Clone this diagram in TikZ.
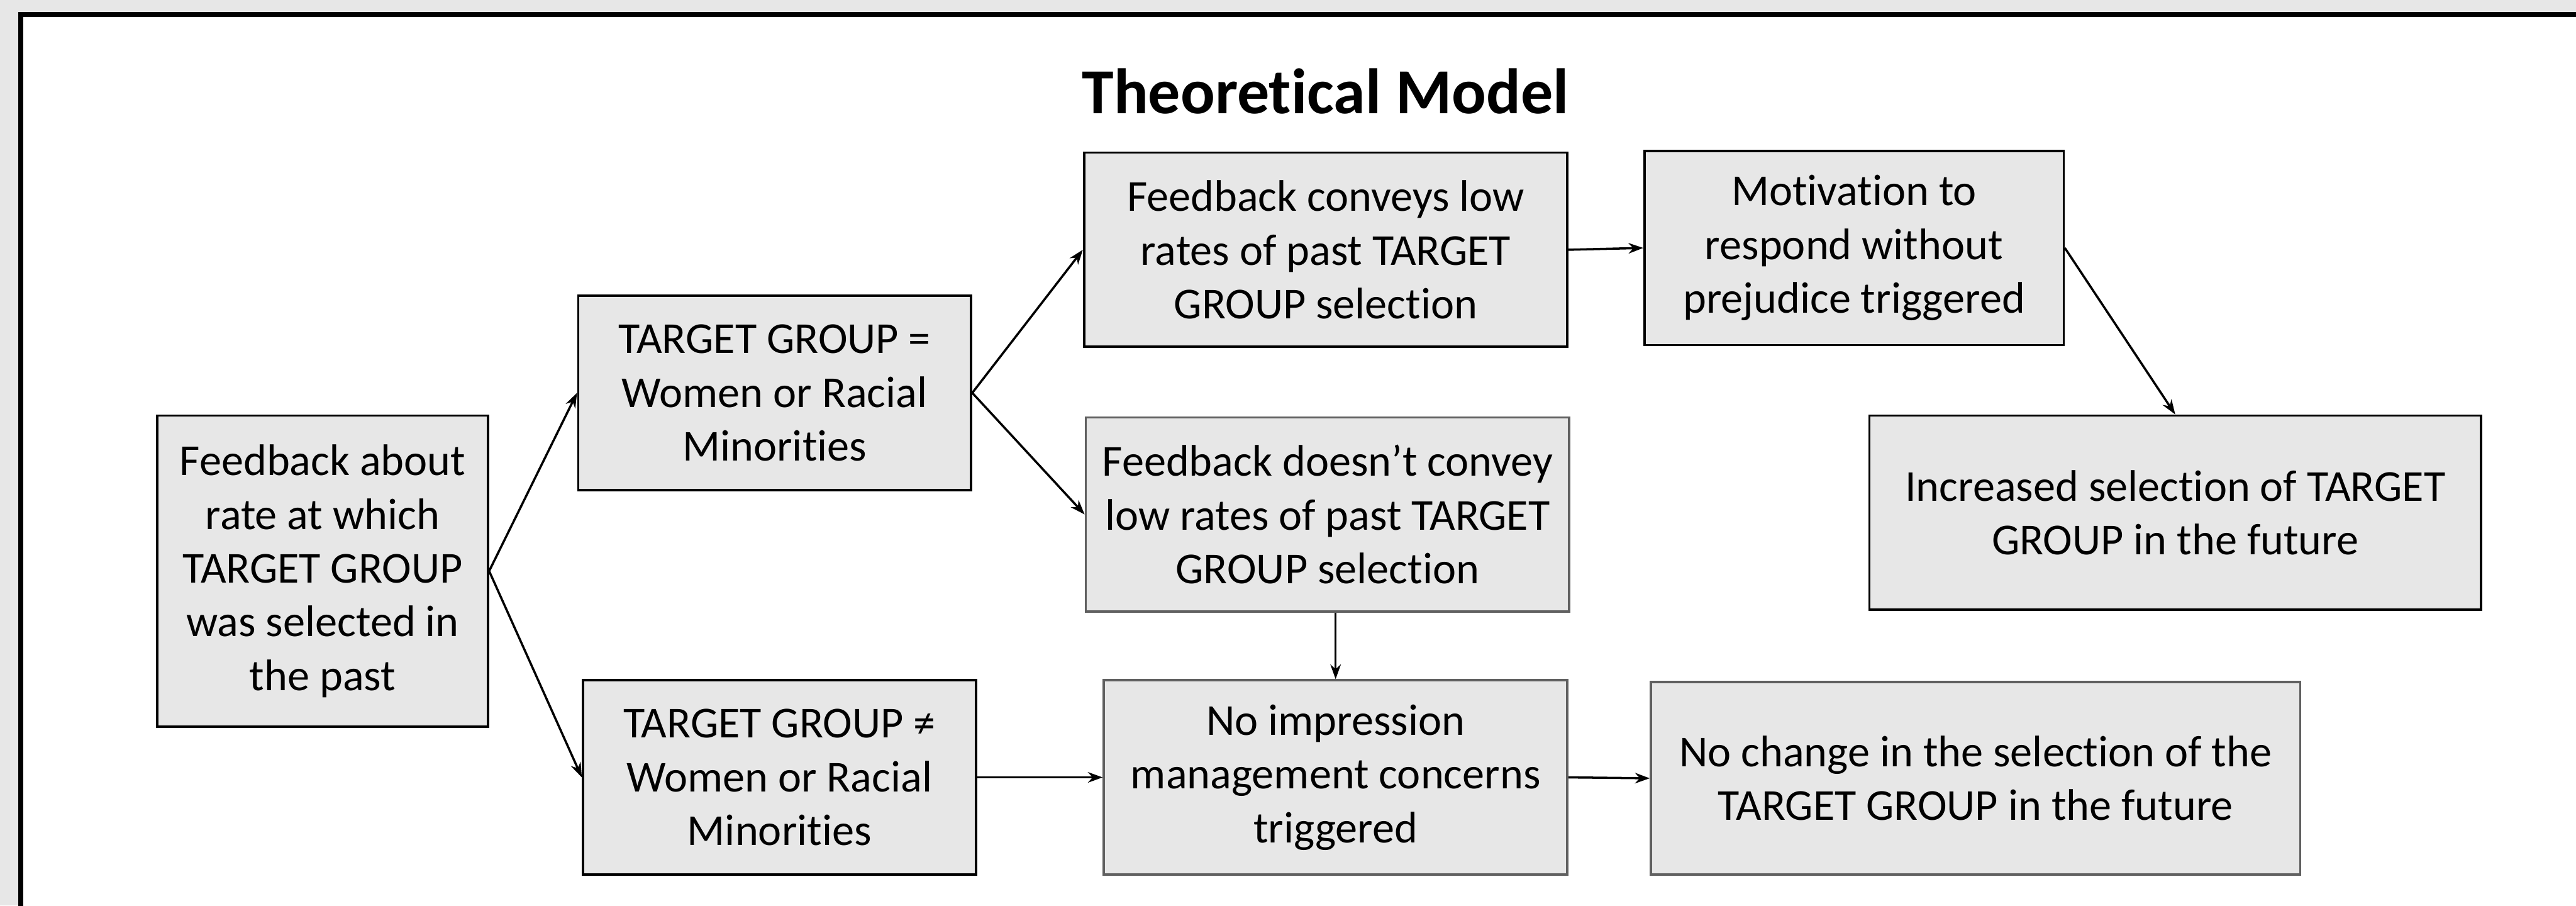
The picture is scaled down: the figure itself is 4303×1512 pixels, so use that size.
\documentclass[tikz,border=0pt]{standalone}
\usepackage{fontspec}
\setmainfont[Ligatures=NoCommon]{Carlito}
\usepackage{xcolor}
\usetikzlibrary{arrows.meta,calc,positioning}
\definecolor{boxfill}{HTML}{E7E7E7}
\definecolor{greyline}{HTML}{606060}

\begin{document}
\begin{tikzpicture}[x=0.01cm,y=-0.01cm]
	\tikzstyle{every node}=[font=\fontsize{21}{25.5}\selectfont]
	\tikzstyle{box}=[draw=black, line width=1.1pt, fill=boxfill, align=center, inner sep=0pt]
	\tikzstyle{greybox}=[box, draw=greyline]
	\tikzstyle{arr}=[line width=1.05pt, -{Stealth[length=7pt,width=5pt]}]
	\useasboundingbox (0,0) rectangle (4303,1512);
	\fill [boxfill] (0,0) rectangle (4303,1512);
	\begin{scope}
		\clip (0,0) rectangle (4303,1512);
		\draw [line width=2.3pt, fill=white] (35,24) rectangle (4400,1600);
	\end{scope}
	\node (title) at (2214,152) {\fontsize{30.5}{37}\selectfont\bfseries Theoretical Model};
	\node [box, minimum width=5.52cm, minimum height=5.19cm] (fb) at (539,953.5) {Feedback about\\rate at which\\TARGET GROUP\\was selected in\\the past};
	\node [box, minimum width=6.56cm, minimum height=3.24cm] (tgeq) at (1294,656) {TARGET GROUP =\\Women or Racial\\Minorities};
	\node [box, minimum width=6.56cm, minimum height=3.24cm] (tgneq) at (1302,1298) {TARGET GROUP ≠\\Women or Racial\\Minorities};
	\node [box, minimum width=8.07cm, minimum height=3.24cm] (conv) at (2214.5,417) {Feedback conveys low\\rates of past TARGET\\GROUP selection};
	\node [greybox, minimum width=8.07cm, minimum height=3.24cm] (noconv) at (2217.5,859) {Feedback doesn’t convey\\low rates of past TARGET\\GROUP selection};
	\node [greybox, minimum width=7.74cm, minimum height=3.24cm] (noimp) at (2231,1298) {No impression\\management concerns\\triggered};
	\node [box, minimum width=7.00cm, minimum height=3.24cm] (motiv) at (3097,414) {Motivation to\\respond without\\prejudice triggered};
	\node [box, minimum width=10.21cm, minimum height=3.24cm] (incr) at (3633.5,856) {Increased selection of TARGET\\GROUP in the future};
	\node [greybox, minimum width=10.84cm, minimum height=3.21cm] (nochange) at (3300,1299.5) {No change in the selection of the\\TARGET GROUP in the future};
	\draw [arr] (fb.east) -- (tgeq.west);
	\draw [arr] (fb.east) -- (tgneq.west);
	\draw [arr] (tgeq.east) -- (conv.west);
	\draw [arr] (tgeq.east) -- (noconv.west);
	\draw [arr] (conv.east) -- (motiv.west);
	\draw [arr] (motiv.east) -- (incr.north);
	\draw [arr] (noimp.north |- noconv.south) -- (noimp.north);
	\draw [arr] (tgneq.east) -- (noimp.west);
	\draw [arr] (noimp.east) -- (nochange.west);
\end{tikzpicture}
\end{document}
